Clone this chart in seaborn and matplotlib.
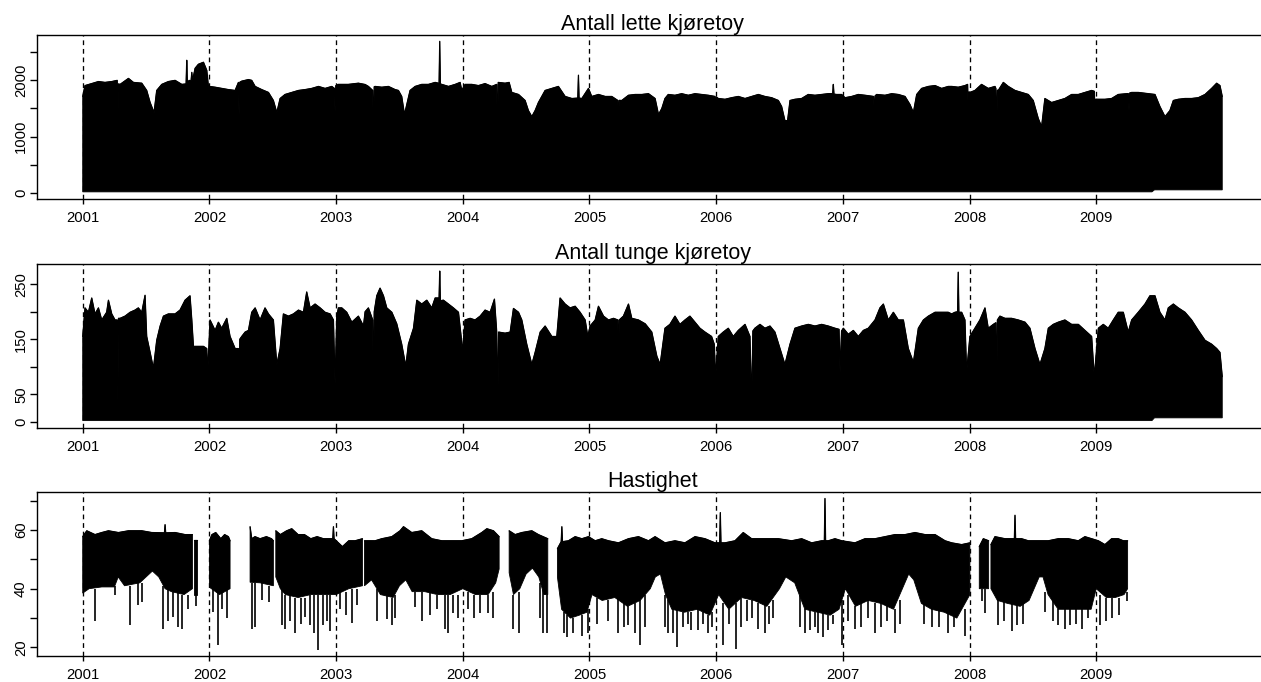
import numpy as np
import pandas as pd
import matplotlib
matplotlib.use("Agg")
import matplotlib.pyplot as plt
import seaborn as sns

# ---------------- data ----------------
GAP = (np.nan, np.nan)

YEARS = [2001, 2002, 2003, 2004, 2005, 2006, 2007, 2008, 2009]
TITLES = ["Antall lette kjøretoy", "Antall tunge kjøretoy", "Hastighet"]

# upper envelope of hourly light-vehicle counts (year, count)
LIGHT_TOP = [
    (2001.000, 1709), (2001.018, 1901), (2001.071, 1936), (2001.124, 1972), (2001.176, 1957),
    (2001.229, 1972), (2001.272, 1993), (2001.277, 1175), (2001.282, 1930), (2001.295, 1922),
    (2001.361, 2028), (2001.400, 1957), (2001.466, 1943), (2001.505, 1815), (2001.532, 1602),
    (2001.563, 1425), (2001.584, 1815), (2001.624, 1922), (2001.676, 1972), (2001.729, 1993),
    (2001.782, 1922), (2001.816, 1930), (2001.821, 2348), (2001.826, 1950), (2001.840, 1993),
    (2001.855, 1980), (2001.861, 2135), (2001.867, 1990), (2001.887, 2206), (2001.913, 2277),
    (2001.953, 2313), (2001.979, 2171), (2001.992, 1890), (2002.000, 1886), (2002.045, 1872),
    (2002.097, 1851), (2002.150, 1830), (2002.203, 1815), (2002.229, 1957), (2002.234, 1390),
    (2002.240, 1960), (2002.255, 1979), (2002.308, 2007), (2002.334, 1993), (2002.361, 1886),
    (2002.413, 1830), (2002.466, 1780), (2002.505, 1638), (2002.532, 1425), (2002.558, 1673),
    (2002.597, 1744), (2002.650, 1780), (2002.703, 1815), (2002.755, 1830), (2002.808, 1851),
    (2002.861, 1886), (2002.913, 1851), (2002.966, 1886), (2002.987, 1851), (2002.992, 1420),
    (2002.998, 1900), (2003.018, 1922), (2003.097, 1922), (2003.176, 1943), (2003.229, 1920),
    (2003.255, 1886), (2003.289, 1815), (2003.295, 960), (2003.301, 1880), (2003.308, 1886),
    (2003.361, 1872), (2003.413, 1886), (2003.466, 1830), (2003.492, 1815), (2003.518, 1709),
    (2003.540, 1389), (2003.558, 1567), (2003.584, 1815), (2003.624, 1886), (2003.676, 1922),
    (2003.729, 1922), (2003.782, 1957), (2003.813, 1940), (2003.818, 2682), (2003.823, 1930),
    (2003.834, 1922), (2003.887, 1886), (2003.940, 1922), (2003.979, 1957), (2003.992, 1815),
    (2004.018, 1922), (2004.071, 1922), (2004.124, 1901), (2004.176, 1936), (2004.229, 1886),
    (2004.268, 1922), (2004.274, 820), (2004.280, 1957), (2004.334, 1943), (2004.366, 1957),
    (2004.387, 1780), (2004.440, 1744), (2004.492, 1638), (2004.518, 1460), (2004.545, 1353),
    (2004.571, 1460), (2004.597, 1602), (2004.650, 1815), (2004.703, 1851), (2004.755, 1886),
    (2004.808, 1709), (2004.861, 1673), (2004.908, 1680), (2004.913, 2085), (2004.918, 1680),
    (2004.940, 1673), (2004.992, 1851), (2005.018, 1709), (2005.071, 1744), (2005.124, 1709),
    (2005.176, 1709), (2005.224, 1638), (2005.229, 1245), (2005.235, 1640), (2005.255, 1638),
    (2005.308, 1730), (2005.361, 1744), (2005.413, 1744), (2005.466, 1758), (2005.518, 1673),
    (2005.545, 1389), (2005.571, 1496), (2005.596, 1673), (2005.622, 1744), (2005.675, 1730),
    (2005.728, 1758), (2005.780, 1730), (2005.833, 1758), (2005.885, 1744), (2005.938, 1730),
    (2005.991, 1709), (2005.996, 1550), (2006.002, 1700), (2006.017, 1673), (2006.070, 1659),
    (2006.122, 1687), (2006.175, 1709), (2006.228, 1673), (2006.280, 1709), (2006.333, 1744),
    (2006.385, 1709), (2006.438, 1687), (2006.491, 1638), (2006.517, 1531), (2006.543, 1282),
    (2006.564, 1282), (2006.583, 1638), (2006.622, 1659), (2006.675, 1673), (2006.727, 1744),
    (2006.780, 1730), (2006.833, 1744), (2006.885, 1758), (2006.920, 1760), (2006.925, 1922),
    (2006.930, 1750), (2006.951, 1744), (2006.991, 1744), (2007.017, 1687), (2007.070, 1709),
    (2007.122, 1744), (2007.175, 1730), (2007.243, 1709), (2007.249, 1389), (2007.255, 1720),
    (2007.267, 1744), (2007.333, 1730), (2007.386, 1758), (2007.438, 1744), (2007.491, 1709),
    (2007.530, 1567), (2007.557, 1425), (2007.583, 1744), (2007.622, 1851), (2007.675, 1886),
    (2007.728, 1901), (2007.780, 1851), (2007.832, 1886), (2007.859, 1886), (2007.911, 1872),
    (2007.964, 1901), (2007.985, 1922), (2007.990, 1425), (2007.996, 1790), (2008.003, 1780),
    (2008.043, 1815), (2008.095, 1922), (2008.148, 1851), (2008.201, 1886), (2008.208, 1850),
    (2008.214, 1070), (2008.220, 1820), (2008.227, 1815), (2008.267, 1957), (2008.306, 1886),
    (2008.359, 1815), (2008.411, 1780), (2008.464, 1744), (2008.503, 1638), (2008.543, 1318),
    (2008.569, 1176), (2008.595, 1673), (2008.648, 1602), (2008.701, 1638), (2008.753, 1673),
    (2008.806, 1744), (2008.859, 1744), (2008.911, 1780), (2008.964, 1815), (2008.985, 1800),
    (2008.990, 1460), (2008.996, 1660), (2009.017, 1659), (2009.069, 1659), (2009.122, 1673),
    (2009.174, 1744), (2009.240, 1758), (2009.253, 1760), (2009.259, 1460), (2009.265, 1770),
    (2009.280, 1780), (2009.332, 1780), (2009.385, 1765), (2009.464, 1744), (2009.503, 1531),
    (2009.543, 1353), (2009.582, 1460), (2009.609, 1638), (2009.648, 1659), (2009.701, 1673),
    (2009.753, 1673), (2009.806, 1687), (2009.859, 1744), (2009.911, 1851), (2009.951, 1943),
    (2009.977, 1901), (2009.995, 1709),
]
# lower envelope (night-time minimum)
LIGHT_LOW = [(2001.000, 25), (2009.440, 25), (2009.460, 60), (2009.995, 60)]

# upper envelope of hourly heavy-vehicle counts
HEAVY_TOP = [
    (2001.000, 155), (2001.018, 207), (2001.045, 199), (2001.071, 225), (2001.097, 196),
    (2001.124, 207), (2001.150, 185), (2001.189, 199), (2001.203, 221), (2001.229, 196),
    (2001.255, 185), (2001.272, 185), (2001.277, 31), (2001.282, 188), (2001.295, 188),
    (2001.334, 192), (2001.374, 199), (2001.413, 203), (2001.439, 207), (2001.466, 199),
    (2001.492, 230), (2001.505, 155), (2001.532, 126), (2001.558, 97), (2001.584, 148),
    (2001.611, 174), (2001.637, 192), (2001.676, 196), (2001.729, 196), (2001.768, 203),
    (2001.808, 221), (2001.847, 229), (2001.861, 185), (2001.874, 137), (2001.953, 137),
    (2001.979, 133), (2001.987, 90), (2002.005, 185), (2002.045, 166), (2002.071, 181),
    (2002.097, 170), (2002.137, 188), (2002.163, 155), (2002.203, 133), (2002.229, 133),
    (2002.234, 60), (2002.240, 150), (2002.255, 155), (2002.282, 163), (2002.308, 166),
    (2002.334, 199), (2002.361, 207), (2002.400, 185), (2002.439, 207), (2002.466, 196),
    (2002.505, 185), (2002.532, 104), (2002.558, 133), (2002.584, 196), (2002.624, 192),
    (2002.663, 196), (2002.703, 203), (2002.742, 199), (2002.768, 236), (2002.795, 207),
    (2002.834, 214), (2002.874, 207), (2002.913, 199), (2002.953, 196), (2002.979, 185),
    (2002.992, 68), (2003.005, 190), (2003.018, 207), (2003.045, 207), (2003.084, 199),
    (2003.124, 181), (2003.176, 192), (2003.216, 174), (2003.229, 200), (2003.255, 207),
    (2003.289, 185), (2003.295, 31), (2003.301, 200), (2003.321, 229), (2003.347, 243),
    (2003.374, 229), (2003.400, 207), (2003.440, 199), (2003.479, 178), (2003.518, 141),
    (2003.550, 101), (2003.571, 141), (2003.611, 170), (2003.637, 221), (2003.676, 214),
    (2003.716, 221), (2003.755, 207), (2003.782, 225), (2003.813, 225), (2003.818, 274),
    (2003.823, 220), (2003.847, 221), (2003.887, 214), (2003.926, 207), (2003.966, 199),
    (2003.987, 155), (2003.997, 126), (2004.018, 185), (2004.058, 188), (2004.097, 185),
    (2004.137, 192), (2004.176, 203), (2004.216, 199), (2004.250, 223), (2004.268, 163),
    (2004.276, 24), (2004.283, 163), (2004.334, 161), (2004.374, 163), (2004.400, 206),
    (2004.440, 199), (2004.466, 185), (2004.505, 141), (2004.545, 104), (2004.571, 126),
    (2004.611, 163), (2004.650, 174), (2004.703, 155), (2004.742, 155), (2004.768, 225),
    (2004.808, 214), (2004.847, 207), (2004.887, 210), (2004.926, 199), (2004.966, 185),
    (2004.987, 155), (2005.005, 174), (2005.045, 185), (2005.071, 210), (2005.111, 192),
    (2005.150, 185), (2005.190, 188), (2005.224, 185), (2005.229, 97), (2005.235, 185),
    (2005.268, 192), (2005.308, 214), (2005.334, 188), (2005.387, 185), (2005.440, 178),
    (2005.492, 163), (2005.532, 119), (2005.558, 104), (2005.596, 170), (2005.635, 177),
    (2005.675, 192), (2005.714, 177), (2005.754, 185), (2005.793, 192), (2005.833, 181),
    (2005.872, 170), (2005.912, 163), (2005.964, 155), (2005.985, 141), (2005.996, 82),
    (2006.017, 155), (2006.056, 163), (2006.096, 170), (2006.135, 155), (2006.175, 166),
    (2006.228, 177), (2006.267, 155), (2006.280, 31), (2006.290, 165), (2006.306, 170),
    (2006.346, 177), (2006.385, 170), (2006.425, 174), (2006.464, 163), (2006.504, 133),
    (2006.543, 104), (2006.583, 141), (2006.622, 170), (2006.675, 174), (2006.727, 177),
    (2006.780, 174), (2006.833, 177), (2006.885, 174), (2006.938, 170), (2006.970, 168),
    (2006.978, 90), (2006.990, 165), (2007.004, 170), (2007.043, 159), (2007.083, 166),
    (2007.122, 155), (2007.162, 166), (2007.201, 170), (2007.254, 185), (2007.293, 207),
    (2007.320, 214), (2007.359, 185), (2007.399, 199), (2007.438, 185), (2007.478, 185),
    (2007.517, 133), (2007.557, 108), (2007.596, 170), (2007.636, 185), (2007.675, 192),
    (2007.728, 199), (2007.780, 199), (2007.832, 199), (2007.859, 196), (2007.885, 199),
    (2007.906, 200), (2007.911, 272), (2007.916, 199), (2007.938, 199), (2007.964, 185),
    (2007.977, 90), (2008.003, 155), (2008.043, 170), (2008.082, 185), (2008.122, 207),
    (2008.148, 170), (2008.188, 177), (2008.208, 180), (2008.214, 31), (2008.220, 185),
    (2008.240, 192), (2008.280, 188), (2008.332, 188), (2008.385, 185), (2008.438, 181),
    (2008.477, 170), (2008.517, 133), (2008.556, 104), (2008.595, 133), (2008.622, 170),
    (2008.661, 177), (2008.701, 181), (2008.753, 185), (2008.806, 177), (2008.859, 177),
    (2008.911, 166), (2008.964, 155), (2008.985, 82), (2009.017, 170), (2009.056, 177),
    (2009.095, 170), (2009.135, 185), (2009.174, 199), (2009.214, 199), (2009.253, 163),
    (2009.280, 185), (2009.332, 199), (2009.385, 214), (2009.424, 229), (2009.464, 229),
    (2009.503, 199), (2009.543, 185), (2009.569, 207), (2009.609, 214), (2009.648, 207),
    (2009.701, 199), (2009.753, 185), (2009.806, 166), (2009.859, 148), (2009.911, 141),
    (2009.951, 133), (2009.977, 126), (2009.995, 82),
]
HEAVY_LOW = [(2001.000, 2), (2009.440, 2), (2009.460, 7), (2009.995, 7)]

# speed: upper envelope and solid lower edge, gaps = missing data
SPEED_TOP = [
    (2001.000, 57.7), (2001.032, 59.7), (2001.097, 58.4), (2001.150, 59.1), (2001.203, 59.7),
    (2001.282, 59.1), (2001.361, 59.7), (2001.466, 59.7), (2001.545, 59.1), (2001.645, 59.0),
    (2001.650, 61.8), (2001.655, 59.0), (2001.729, 59.1), (2001.808, 58.4), (2001.866, 58.4),
    GAP,
    (2001.882, 56.5), (2001.900, 56.5),
    GAP,
    (2002.000, 56.3), (2002.020, 58.4), (2002.050, 59.1), (2002.090, 57.0), (2002.120, 58.4),
    (2002.150, 57.7), (2002.163, 56.3),
    GAP,
    (2002.321, 61.1), (2002.334, 57.0), (2002.360, 57.7), (2002.400, 57.0), (2002.450, 57.7),
    (2002.490, 57.0), (2002.505, 56.3),
    GAP,
    (2002.524, 59.7), (2002.560, 58.4), (2002.610, 59.7), (2002.650, 60.4), (2002.700, 58.4),
    (2002.750, 58.4), (2002.800, 57.0), (2002.850, 57.7), (2002.900, 57.0), (2002.950, 57.0),
    (2002.974, 57.0), (2002.979, 61.1), (2002.984, 57.0), (2003.050, 54.3), (2003.100, 56.3),
    (2003.150, 56.3), (2003.208, 57.0),
    GAP,
    (2003.224, 56.3), (2003.308, 56.3), (2003.361, 57.0), (2003.440, 57.7), (2003.505, 59.7),
    (2003.532, 61.1), (2003.597, 59.1), (2003.676, 59.7), (2003.755, 57.0), (2003.834, 56.3),
    (2003.913, 56.3), (2003.992, 56.3), (2004.071, 57.0), (2004.150, 59.1), (2004.190, 60.4),
    (2004.242, 59.7), (2004.287, 57.7),
    GAP,
    (2004.366, 59.7), (2004.413, 58.4), (2004.466, 59.1), (2004.545, 59.7), (2004.597, 58.4),
    (2004.671, 57.0),
    GAP,
    (2004.747, 53.6), (2004.777, 56.0), (2004.782, 61.1), (2004.787, 56.0), (2004.834, 56.3),
    (2004.887, 57.7), (2004.940, 57.0), (2004.992, 57.7), (2005.045, 56.3), (2005.097, 57.0),
    (2005.150, 56.3), (2005.229, 55.6), (2005.308, 57.0), (2005.387, 57.7), (2005.466, 56.3),
    (2005.518, 57.7), (2005.596, 55.6), (2005.675, 56.3), (2005.754, 55.6), (2005.833, 57.7),
    (2005.912, 57.0), (2005.991, 55.6), (2006.028, 55.6), (2006.033, 65.9), (2006.038, 55.6),
    (2006.070, 55.6), (2006.149, 56.3), (2006.214, 59.1), (2006.280, 57.0), (2006.385, 57.0),
    (2006.491, 57.0), (2006.596, 56.3), (2006.675, 57.0), (2006.754, 55.6), (2006.833, 56.3),
    (2006.854, 56.3), (2006.859, 70.7), (2006.864, 56.3), (2006.885, 56.3), (2006.938, 57.0),
    (2006.991, 56.3), (2007.096, 55.6), (2007.175, 57.0), (2007.254, 57.0), (2007.333, 57.7),
    (2007.412, 58.4), (2007.491, 58.4), (2007.570, 59.1), (2007.649, 58.4), (2007.728, 58.4),
    (2007.807, 56.3), (2007.859, 55.6), (2007.938, 55.0), (2008.003, 55.6),
    GAP,
    (2008.077, 54.3), (2008.109, 57.0), (2008.151, 56.3),
    GAP,
    (2008.169, 55.0), (2008.201, 57.7), (2008.280, 57.0), (2008.354, 57.0), (2008.359, 65.0),
    (2008.364, 57.0), (2008.411, 57.0), (2008.464, 56.3), (2008.543, 56.3), (2008.622, 56.3),
    (2008.701, 57.0), (2008.780, 57.0), (2008.859, 56.3), (2008.911, 57.7), (2008.964, 57.0),
    (2009.017, 56.3), (2009.069, 55.0), (2009.122, 57.0), (2009.174, 57.0), (2009.214, 56.3),
    (2009.248, 56.3),
]
SPEED_LOW = [
    (2001.000, 38.5), (2001.050, 40.0), (2001.150, 40.6), (2001.250, 40.6), (2001.280, 44.0),
    (2001.330, 41.0), (2001.450, 42.0), (2001.500, 44.0), (2001.550, 46.0), (2001.600, 44.0),
    (2001.650, 40.0), (2001.700, 39.0), (2001.800, 38.0), (2001.866, 40.0),
    GAP,
    (2001.882, 38.0), (2001.900, 38.0),
    GAP,
    (2002.000, 40.5), (2002.080, 38.0), (2002.163, 40.0),
    GAP,
    (2002.321, 42.2), (2002.400, 42.0), (2002.505, 41.0),
    GAP,
    (2002.524, 44.0), (2002.560, 40.0), (2002.600, 38.0), (2002.700, 37.0), (2002.800, 38.0),
    (2002.900, 38.0), (2003.000, 38.0), (2003.100, 40.0), (2003.208, 41.0),
    GAP,
    (2003.224, 41.0), (2003.280, 43.0), (2003.350, 38.0), (2003.450, 37.0), (2003.500, 41.0),
    (2003.550, 43.0), (2003.600, 39.0), (2003.700, 39.0), (2003.800, 38.0), (2003.900, 38.0),
    (2004.000, 40.0), (2004.100, 38.0), (2004.200, 38.0), (2004.260, 42.0), (2004.287, 46.7),
    GAP,
    (2004.366, 45.4), (2004.400, 38.0), (2004.450, 40.0), (2004.500, 45.0), (2004.550, 47.0),
    (2004.600, 44.0), (2004.640, 38.0), (2004.671, 38.0),
    GAP,
    (2004.747, 44.0), (2004.780, 33.0), (2004.850, 30.0), (2004.920, 31.0), (2004.980, 32.0),
    (2005.020, 38.0), (2005.100, 36.0), (2005.200, 37.0), (2005.300, 34.0), (2005.400, 36.0),
    (2005.480, 40.0), (2005.520, 44.0), (2005.560, 45.0), (2005.600, 38.0), (2005.650, 33.0),
    (2005.750, 32.0), (2005.850, 33.0), (2005.950, 31.0), (2006.020, 38.0), (2006.100, 33.0),
    (2006.200, 37.0), (2006.300, 36.0), (2006.400, 34.0), (2006.500, 40.0), (2006.550, 44.0),
    (2006.620, 42.0), (2006.700, 33.0), (2006.800, 32.0), (2006.900, 31.0), (2006.970, 33.0),
    (2007.020, 40.0), (2007.100, 34.0), (2007.200, 36.0), (2007.300, 35.0), (2007.400, 33.0),
    (2007.470, 40.0), (2007.520, 45.0), (2007.560, 43.0), (2007.620, 35.0), (2007.700, 33.0),
    (2007.800, 32.0), (2007.900, 30.0), (2008.003, 38.0),
    GAP,
    (2008.077, 40.0), (2008.151, 40.0),
    GAP,
    (2008.169, 40.0), (2008.220, 36.0), (2008.300, 35.0), (2008.400, 34.0), (2008.470, 36.0),
    (2008.520, 41.0), (2008.550, 44.0), (2008.580, 44.0), (2008.620, 38.0), (2008.700, 33.0),
    (2008.800, 33.0), (2008.900, 33.0), (2008.960, 33.0), (2009.000, 40.0), (2009.080, 37.0),
    (2009.150, 37.0), (2009.220, 38.0), (2009.248, 40.0),
]
# short downward speed drops: (year, lowest value, value where the drop starts)
SPEED_DIPS = [
    (2001.097, 29.0, 40), (2001.255, 38.0, 41), (2001.374, 27.6, 41), (2001.434, 34.4, 42),
    (2001.470, 35.5, 42), (2001.637, 26.2, 41), (2001.676, 29.0, 40), (2001.716, 30.3, 39),
    (2001.755, 27.0, 39), (2001.782, 26.2, 38), (2001.834, 33.0, 38), (2001.893, 34.0, 38),
    (2002.030, 32.0, 40), (2002.066, 20.7, 39), (2002.100, 33.0, 39), (2002.140, 30.0, 40),
    (2002.340, 26.2, 42), (2002.360, 27.0, 42), (2002.415, 36.0, 42), (2002.470, 35.5, 41),
    (2002.571, 27.6, 40), (2002.597, 26.2, 38), (2002.637, 29.0, 38), (2002.676, 24.8, 37),
    (2002.720, 28.0, 37), (2002.755, 30.3, 37), (2002.795, 27.6, 38), (2002.829, 24.8, 38),
    (2002.861, 19.3, 38), (2002.900, 27.6, 38), (2002.930, 29.0, 38), (2002.953, 25.5, 38),
    (2003.032, 33.0, 39), (2003.080, 31.0, 39), (2003.124, 28.3, 40), (2003.163, 34.4, 40),
    (2003.321, 29.0, 40), (2003.400, 29.7, 38), (2003.440, 27.6, 37), (2003.466, 30.0, 38),
    (2003.624, 33.7, 39), (2003.676, 29.0, 39), (2003.740, 31.0, 39), (2003.795, 33.0, 38),
    (2003.861, 26.2, 38), (2003.887, 24.8, 38), (2003.926, 31.7, 38), (2003.960, 30.0, 38),
    (2004.045, 33.0, 39), (2004.090, 30.0, 38), (2004.137, 31.7, 38), (2004.203, 31.7, 38),
    (2004.240, 30.0, 39), (2004.400, 26.2, 38), (2004.440, 24.8, 39), (2004.610, 30.0, 42),
    (2004.637, 24.8, 40), (2004.663, 24.8, 38), (2004.800, 25.0, 32), (2004.821, 23.5, 31),
    (2004.870, 25.0, 30), (2004.940, 24.0, 31), (2004.992, 24.8, 33), (2005.060, 28.0, 37),
    (2005.150, 29.0, 36), (2005.229, 24.8, 37), (2005.270, 27.0, 35), (2005.308, 27.6, 34),
    (2005.361, 24.8, 35), (2005.400, 20.7, 36), (2005.440, 27.0, 38), (2005.600, 27.0, 38),
    (2005.622, 25.0, 36), (2005.662, 24.8, 33), (2005.688, 20.0, 33), (2005.740, 27.0, 32),
    (2005.780, 28.0, 32), (2005.800, 26.0, 32), (2005.860, 26.0, 33), (2005.900, 28.0, 32),
    (2005.938, 24.8, 31), (2005.965, 27.0, 32), (2006.056, 20.7, 35), (2006.100, 28.0, 33),
    (2006.156, 19.4, 35), (2006.200, 27.0, 37), (2006.240, 29.0, 36), (2006.280, 30.0, 36),
    (2006.333, 26.2, 35), (2006.385, 24.8, 35), (2006.420, 28.0, 34), (2006.450, 30.0, 36),
    (2006.660, 27.0, 38), (2006.701, 24.8, 33), (2006.740, 26.0, 33), (2006.780, 27.0, 32),
    (2006.806, 24.8, 32), (2006.846, 23.5, 32), (2006.880, 26.0, 31), (2006.920, 28.0, 31),
    (2006.991, 20.7, 36), (2007.040, 29.0, 38), (2007.096, 26.2, 34), (2007.140, 27.0, 35),
    (2007.200, 30.0, 36), (2007.254, 24.8, 35), (2007.300, 27.0, 35), (2007.350, 29.0, 34),
    (2007.412, 24.8, 33), (2007.450, 28.0, 36), (2007.640, 28.0, 35), (2007.700, 27.0, 33),
    (2007.760, 27.0, 33), (2007.833, 24.8, 32), (2007.880, 27.0, 31), (2007.964, 24.0, 33),
    (2008.095, 35.8, 40), (2008.122, 31.7, 40), (2008.227, 27.6, 36), (2008.270, 29.0, 36),
    (2008.332, 25.5, 35), (2008.372, 27.6, 35), (2008.420, 28.0, 35), (2008.595, 32.0, 39),
    (2008.660, 29.0, 36), (2008.701, 27.6, 33), (2008.753, 26.2, 33), (2008.793, 27.6, 33),
    (2008.840, 28.0, 33), (2008.885, 26.2, 33), (2008.938, 30.0, 33), (2009.030, 27.6, 38),
    (2009.080, 29.0, 37), (2009.122, 30.0, 37), (2009.180, 31.0, 37), (2009.240, 35.8, 39),
]

Y_TICKS = [[0, 500, 1000, 1500, 2000, 2500], [0, 50, 100, 150, 200, 250], [20, 30, 40, 50, 60, 70]]
Y_LABELS = [["0", "", "1000", "", "2000", ""], ["0", "50", "", "150", "", "250"],
            ["20", "", "40", "", "60", ""]]
Y_LIMS = [(-101, 2794), (-11.5, 287.3), (17.1, 72.9)]
X_LIM = (2000.639, 2010.361)

# ---------------- style ----------------
sns.set_theme(style="ticks")
plt.rcParams["font.family"] = ["Liberation Sans", "DejaVu Sans"]
plt.rcParams["axes.edgecolor"] = "black"
plt.rcParams["text.color"] = "black"
plt.rcParams["axes.titlecolor"] = "black"
plt.rcParams["xtick.color"] = "black"
plt.rcParams["ytick.color"] = "black"
plt.rcParams["xtick.labelcolor"] = "black"
plt.rcParams["ytick.labelcolor"] = "black"


def split(pairs):
    segs, cur = [], []
    for t, v in pairs:
        if np.isnan(t):
            if cur:
                segs.append(cur)
            cur = []
        else:
            cur.append((t, v))
    if cur:
        segs.append(cur)
    return segs


def draw_band(ax, top, low):
    rows = []
    for k, (ts, ls) in enumerate(zip(split(top), split(low))):
        tt, tv = zip(*ts)
        lt, lv = zip(*ls)
        ax.fill(list(tt) + list(lt)[::-1], list(tv) + list(lv)[::-1],
                facecolor="black", edgecolor="black", lw=0.6, zorder=2)
        rows += [{"t": t, "v": v, "seg": k} for t, v in ts]
    df = pd.DataFrame(rows)
    sns.lineplot(data=df, x="t", y="v", units="seg", estimator=None, color="black",
                 lw=0.9, ax=ax, zorder=3, legend=False)
    ax.set_xlabel("")
    ax.set_ylabel("")


fig = plt.figure(figsize=(12.61, 6.82), dpi=100)
positions = [[0.02934, 0.7082, 0.9767, 0.2405],
             [0.02934, 0.3724, 0.9767, 0.2409],
             [0.02934, 0.0381, 0.9767, 0.2405]]
axes = [fig.add_axes(p) for p in positions]

draw_band(axes[0], LIGHT_TOP, LIGHT_LOW)
draw_band(axes[1], HEAVY_TOP, HEAVY_LOW)
draw_band(axes[2], SPEED_TOP, SPEED_LOW)
dip_t, dip_lo, dip_top = zip(*SPEED_DIPS)
axes[2].vlines(dip_t, dip_lo, dip_top, color="black", lw=1.2, zorder=2)

for i, ax in enumerate(axes):
    ax.set_facecolor("white")
    for y in YEARS:
        ax.axvline(y, color="black", lw=0.95, ls=(0, (3.6, 2.9)), zorder=4)
    ax.set_xlim(*X_LIM)
    ax.set_ylim(*Y_LIMS[i])
    ax.set_xticks(YEARS)
    ax.set_xticklabels([str(y) for y in YEARS])
    ax.set_yticks(Y_TICKS[i])
    ax.set_yticklabels(Y_LABELS[i])
    for lab in ax.get_yticklabels():
        lab.set_rotation(90)
        lab.set_va("center")
    ax.tick_params(axis="y", direction="out", length=5, width=1.0, labelsize=10.7, pad=1.4)
    ax.tick_params(axis="x", direction="out", length=3.6, width=1.0, labelsize=10.7, pad=5.0)
    for sp in ax.spines.values():
        sp.set_visible(True)
        sp.set_linewidth(1.0)
        sp.set_color("black")
    ax.set_title(TITLES[i], fontsize=15.5, pad=2.5, color="black")

fig.savefig("out.png", dpi=100)
